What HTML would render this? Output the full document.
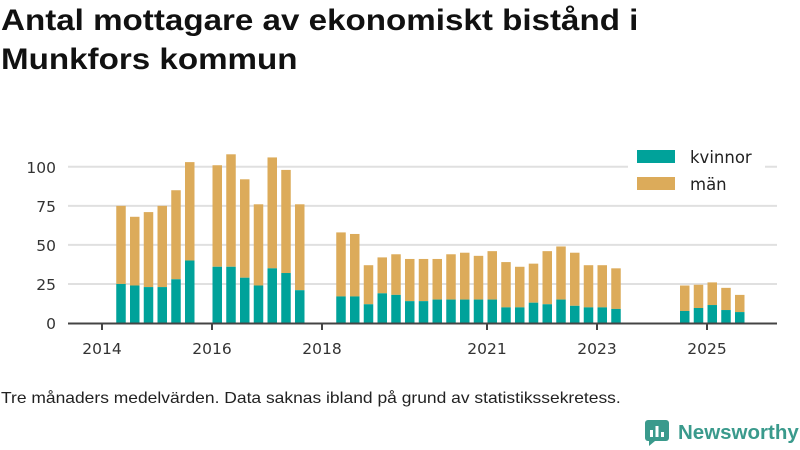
<!DOCTYPE html>
<html><head><meta charset="utf-8">
<style>
body{margin:0;width:800px;height:450px;background:#fff;font-family:"Liberation Sans",sans-serif;overflow:hidden;position:relative}
h1{position:absolute;left:1px;top:1px;margin:0;font-size:30px;line-height:39px;font-weight:bold;color:#111;transform:scaleX(1.105);transform-origin:0 0;white-space:nowrap}
.note{position:absolute;left:1px;top:390px;font-size:16px;color:#222;transform:scaleX(1.09);transform-origin:0 0;white-space:nowrap}
.logo{position:absolute;left:645px;top:420px;display:flex;align-items:center;color:#3a9a8c;font-size:20.5px;font-weight:bold;white-space:nowrap}
</style></head><body>
<h1>Antal mottagare av ekonomiskt bistånd i<br>Munkfors kommun</h1>
<svg id="chart" width="800" height="450" style="position:absolute;left:0;top:0"></svg>
<div class="note">Tre månaders medelvärden. Data saknas ibland på grund av statistikssekretess.</div>
<div class="logo">
<svg width="24" height="26" viewBox="0 0 24 26"><rect x="0" y="0" width="24" height="21" rx="3" fill="#3a9a8c"/><path d="M4 21 L4 26 L10 21Z" fill="#3a9a8c"/><rect x="5" y="10" width="3" height="7" fill="#fff"/><rect x="10.5" y="6" width="3" height="11" fill="#fff"/><rect x="16" y="12" width="3" height="5" fill="#fff"/></svg>
<span style="margin-left:9px">Newsworthy</span></div>
<script>
// quarter index from 2014 Q1
const quarters=[1,2,3,4,5,6,8,9,10,11,12,13,14,17,18,19,20,21,22,23,24,25,26,27,28,29,30,31,32,33,34,35,36,37,42,43,44,45,46];
const totals=[75,68,71,75,85,103,101,108,92,76,106,98,76,58,57,37,42,44,41,41,41,44,45,43,46,39,36,38,46,49,45,37,37,35,24,24.5,26,22.5,18];
const kvinnor=[25,24,23,23,28,40,36,36,29,24,35,32,21,17,17,12,19,18,14,14,15,15,15,15,15,10,10,13,12,15,11,10,10,9,7.7,9.6,11.5,8.3,7];
const yTicks=[0,25,50,75,100];
const xTicks=[2014,2016,2018,2021,2023,2025];
const NS="http://www.w3.org/2000/svg";
const svg=document.getElementById('chart');
const FF='DejaVu Sans, sans-serif';
const y=v=>323-v*1.562;
const xYear=yr=>102+(yr-2014)*55;
const xQ=q=>xYear(2014+q/4);
function mk(t,a){const e=document.createElementNS(NS,t);for(const k in a)e.setAttribute(k,a[k]);svg.appendChild(e);return e;}
yTicks.forEach(v=>{
 if(v>0){const g=mk('line',{x1:68,x2:777,y1:y(v),y2:y(v),stroke:'#e0e0e0','stroke-width':2});
 
 }
 const t=mk('text',{x:56,y:y(v)+6,'text-anchor':'end','font-size':15.5,fill:'#333','font-family':FF});
 t.textContent=v;
 
 
});
quarters.forEach((q,i)=>{
 const x=xQ(q)+0.5,w=9.5;
 const r1=mk('rect',{x:x,y:y(totals[i]),width:w,height:y(kvinnor[i])-y(totals[i]),fill:'#dcab5a'});
 
 
 const r2=mk('rect',{x:x,y:y(kvinnor[i]),width:w,height:323-y(kvinnor[i]),fill:'#00a29a'});
 
 
});
const ax=mk('line',{x1:68,x2:777,y1:323.5,y2:323.5,stroke:'#444','stroke-width':2});


xTicks.forEach(yr=>{
 const tk=mk('line',{x1:xYear(yr),x2:xYear(yr),y1:323,y2:330,stroke:'#444','stroke-width':2});
 
 
 const t=mk('text',{x:xYear(yr),y:354,'text-anchor':'middle','font-size':15.5,fill:'#333','font-family':FF});
 t.textContent=yr;
 
 
});
const lb=mk('rect',{x:628,y:143,width:137,height:55,fill:'#fff'});


[['kvinnor','#00a29a',150],['män','#dcab5a',177]].forEach(([n,c,yy])=>{
 const s=mk('rect',{x:637,y:yy,width:38,height:13,fill:c});
 
 
 const t=mk('text',{x:690,y:yy+13,'font-size':16.5,fill:'#222','font-family':FF});
 t.textContent=n;
 
 
});
</script>
</body></html>
